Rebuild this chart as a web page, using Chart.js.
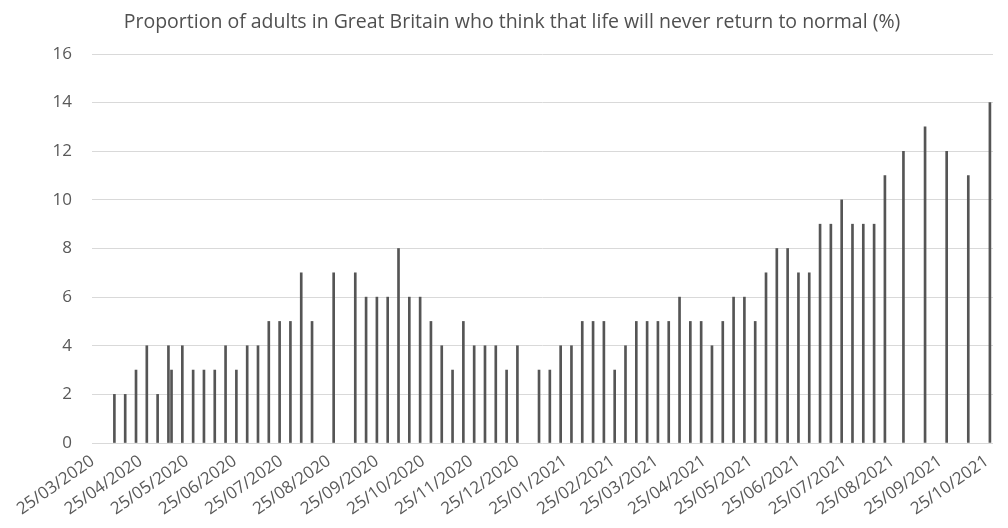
<!DOCTYPE html>
<html>
<head>
<meta charset="utf-8">
<script src="https://cdn.jsdelivr.net/npm/chart.js@4.4.1/dist/chart.umd.min.js"></script>
<style>
  html, body { margin: 0; padding: 0; background: #ffffff; }
  #wrap { width: 1008px; height: 528px; position: relative; }
</style>
</head>
<body>
<div id="wrap"><canvas id="c" width="1008" height="528"></canvas></div>
<script>
const titleText = 'Proportion of adults in Great Britain who think that life will never return to normal (%)';

const surveyDates = [
  '2020-04-08','2020-04-15','2020-04-22','2020-04-29','2020-05-06','2020-05-13','2020-05-15','2020-05-22','2020-05-29',
  '2020-06-05','2020-06-12','2020-06-19','2020-06-26','2020-07-03','2020-07-10','2020-07-17','2020-07-24','2020-07-31',
  '2020-08-07','2020-08-14','2020-08-28','2020-09-11','2020-09-18','2020-09-25','2020-10-02','2020-10-09','2020-10-16',
  '2020-10-23','2020-10-30','2020-11-06','2020-11-13','2020-11-20','2020-11-27','2020-12-04','2020-12-11','2020-12-18',
  '2020-12-25','2021-01-08','2021-01-15','2021-01-22','2021-01-29','2021-02-05','2021-02-12','2021-02-19','2021-02-26',
  '2021-03-05','2021-03-12','2021-03-19','2021-03-26','2021-04-02','2021-04-09','2021-04-16','2021-04-23','2021-04-30',
  '2021-05-07','2021-05-14','2021-05-21','2021-05-28','2021-06-04','2021-06-11','2021-06-18','2021-06-25','2021-07-02',
  '2021-07-09','2021-07-16','2021-07-23','2021-07-30','2021-08-06','2021-08-13','2021-08-20','2021-09-01','2021-09-15',
  '2021-09-29','2021-10-13','2021-10-27'
];

const neverNormal = [
  2,2,3,4,2,4,3,4,3,
  3,3,4,3,4,4,5,5,5,
  7,5,7,7,6,6,6,8,6,
  6,5,4,3,5,4,4,4,3,
  4,3,3,4,4,5,5,5,3,
  4,5,5,5,5,6,5,5,4,
  5,6,6,5,7,8,8,7,7,
  9,9,10,9,9,9,11,12,13,
  12,11,14
];

const tickLabels = [
  '25/03/2020','25/04/2020','25/05/2020','25/06/2020','25/07/2020','25/08/2020','25/09/2020','25/10/2020',
  '25/11/2020','25/12/2020','25/01/2021','25/02/2021','25/03/2021','25/04/2021','25/05/2021','25/06/2021',
  '25/07/2021','25/08/2021','25/09/2021','25/10/2021'
];

const yTicks = [0, 2, 4, 6, 8, 10, 12, 14, 16];

// day offsets from the first tick label
function parseDMY(s) { const [d, m, y] = s.split('/').map(Number); return Date.UTC(y, m - 1, d); }
function parseISO(s) { const [y, m, d] = s.split('-').map(Number); return Date.UTC(y, m - 1, d); }
const base = parseDMY(tickLabels[0]);
const DAY = 86400000;
const tickDays = tickLabels.map(s => Math.round((parseDMY(s) - base) / DAY));
const points = surveyDates.map((s, i) => ({ x: Math.round((parseISO(s) - base) / DAY), y: neverNormal[i] }));

const txt = '#595959';
const fam = "'Open Sans', 'DejaVu Sans', sans-serif";

const titlePlugin = {
  id: 'titlePlugin',
  afterDraw(chart) {
    const ctx = chart.ctx;
    ctx.save();
    ctx.font = "19.5px " + fam;
    ctx.fillStyle = '#505050';
    ctx.textAlign = 'center';
    ctx.textBaseline = 'middle';
    ctx.fillText(titleText, 512, 22);
    ctx.restore();
  }
};

new Chart(document.getElementById('c'), {
  type: 'bar',
  data: {
    datasets: [{
      label: 'Never return to normal (%)',
      data: points,
      backgroundColor: '#555555',
      borderWidth: 0,
      barThickness: 2
    }]
  },
  options: {
    responsive: false,
    animation: false,
    layout: { padding: { top: 54, right: 15, left: 0, bottom: 0 } },
    plugins: { legend: { display: false }, tooltip: { enabled: false }, title: { display: false } },
    scales: {
      x: {
        type: 'linear',
        min: -0.5,
        max: 583,
        offset: false,
        grid: { display: false, offset: false },
        border: { display: false },
        afterBuildTicks(scale) { scale.ticks = tickDays.map(v => ({ value: v })); },
        afterFit(scale) { scale.height = 85; },
        ticks: {
          autoSkip: false,
          maxRotation: 35,
          minRotation: 35,
          padding: 0,
          color: txt,
          font: { family: fam, size: 17 },
          callback(value) { const i = tickDays.indexOf(value); return i >= 0 ? tickLabels[i] : ''; }
        }
      },
      y: {
        min: 0,
        max: 16,
        afterBuildTicks(scale) { scale.ticks = yTicks.map(v => ({ value: v })); },
        afterFit(scale) { scale.width = 92; },
        grid: { color: '#d9d9d9', lineWidth: 1, drawTicks: false },
        border: { display: false },
        ticks: {
          padding: 20,
          color: txt,
          font: { family: fam, size: 17 }
        }
      }
    }
  },
  plugins: [titlePlugin]
});
</script>
</body>
</html>
